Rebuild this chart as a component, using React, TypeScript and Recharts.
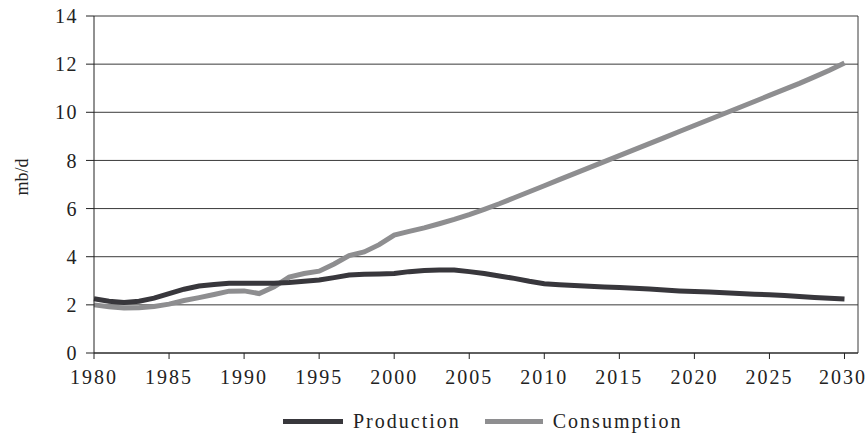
import React from 'react';
import { LineChart, Line, XAxis, YAxis, CartesianGrid, ReferenceLine } from 'recharts';

const years = [
  1980, 1981, 1982, 1983, 1984, 1985, 1986, 1987, 1988, 1989,
  1990, 1991, 1992, 1993, 1994, 1995, 1996, 1997, 1998, 1999,
  2000, 2001, 2002, 2003, 2004, 2005, 2006, 2007, 2008, 2009,
  2010, 2011, 2012, 2013, 2014, 2015, 2016, 2017, 2018, 2019,
  2020, 2021, 2022, 2023, 2024, 2025, 2026, 2027, 2028, 2029, 2030,
];

const production = [
  2.25, 2.15, 2.1, 2.15, 2.28, 2.47, 2.65, 2.78, 2.85, 2.9,
  2.9, 2.9, 2.9, 2.93, 2.98, 3.03, 3.13, 3.24, 3.27, 3.28,
  3.3, 3.38, 3.43, 3.45, 3.45, 3.38, 3.3, 3.2, 3.1, 2.98,
  2.88, 2.84, 2.8, 2.77, 2.74, 2.72, 2.69, 2.66, 2.62, 2.58,
  2.55, 2.53, 2.5, 2.47, 2.44, 2.42, 2.39, 2.35, 2.31, 2.27, 2.24,
];

const consumption = [
  2.0, 1.92, 1.87, 1.88, 1.93, 2.03, 2.18, 2.3, 2.43, 2.57,
  2.58, 2.47, 2.75, 3.15, 3.3, 3.4, 3.7, 4.05, 4.2, 4.5,
  4.9, 5.05, 5.2, 5.37, 5.55, 5.75, 5.97, 6.2, 6.45, 6.7,
  6.95, 7.2, 7.45, 7.7, 7.95, 8.2, 8.45, 8.7, 8.95, 9.2,
  9.45, 9.7, 9.95, 10.2, 10.45, 10.7, 10.95, 11.2, 11.47, 11.75, 12.05,
];

const xTicks = [1980, 1985, 1990, 1995, 2000, 2005, 2010, 2015, 2020, 2025, 2030];
const yTicks = [0, 2, 4, 6, 8, 10, 12, 14];
const xMax = 2030.9;

const data = years.map((year, i) => ({
  year,
  production: production[i],
  consumption: consumption[i],
}));

const font = '"Liberation Serif", "DejaVu Serif", serif';
const prodColor = '#38373c';
const consColor = '#8e8e90';

// y axis title, rotated
const YTitle = () => (
  <text
    x={22}
    y={177}
    transform="rotate(-90, 22, 177)"
    textAnchor="middle"
    dominantBaseline="central"
    fill="#222"
    fontSize={18}
    fontFamily={font}
  >
    mb/d
  </text>
);

export default function App() {
  return (
    <div style={{ position: 'absolute', left: 0, top: 0, width: 867, height: 435, background: '#fff', fontFamily: font }}>
      <LineChart width={867} height={435} data={data} margin={{ top: 16, right: 9, left: 0, bottom: 52 }}>
        <CartesianGrid vertical={false} stroke="#3a3a3a" strokeWidth={1} />
        <XAxis
          dataKey="year"
          type="number"
          domain={[1980, xMax]}
          ticks={xTicks}
          height={30}
          tickSize={6}
          tickMargin={11}
          stroke="#222"
          tick={{ fill: '#222', fontSize: 20, fontFamily: font, letterSpacing: 2 }}
        />
        <YAxis
          domain={[0, 14]}
          ticks={yTicks}
          width={94}
          tickSize={8}
          tickMargin={8}
          stroke="#222"
          tick={{ fill: '#222', fontSize: 20, fontFamily: font, letterSpacing: 1.5 }}
          label={{ content: () => <YTitle /> }}
        />
        <ReferenceLine x={xMax} stroke="#3a3a3a" strokeWidth={1} />
        <Line type="linear" dataKey="consumption" stroke={consColor} strokeWidth={5} dot={false} isAnimationActive={false} />
        <Line type="linear" dataKey="production" stroke={prodColor} strokeWidth={5} dot={false} isAnimationActive={false} />
      </LineChart>
      <div style={{ position: 'absolute', top: 410, left: 283, display: 'flex', alignItems: 'center', fontSize: 20, color: '#222', letterSpacing: 2 }}>
        <span style={{ display: 'inline-block', width: 60, height: 5, background: prodColor, marginRight: 10 }} />
        <span>Production</span>
        <span style={{ display: 'inline-block', width: 58, height: 5, background: consColor, marginLeft: 24, marginRight: 10 }} />
        <span>Consumption</span>
      </div>
    </div>
  );
}
